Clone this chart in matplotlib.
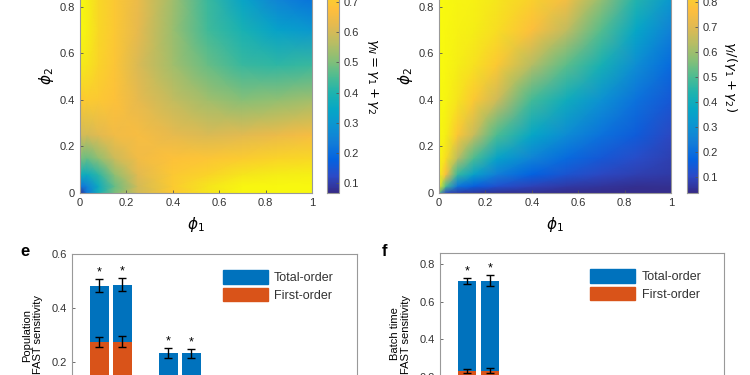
import numpy as np
import matplotlib
matplotlib.use('Agg')
import matplotlib.pyplot as plt
from matplotlib.colors import LinearSegmentedColormap
from matplotlib.patches import Patch

plt.rcParams['font.family'] = ['Liberation Sans', 'DejaVu Sans']
plt.rcParams['font.size'] = 8
plt.rcParams['text.color'] = '#333333'
plt.rcParams['xtick.color'] = '#555555'
plt.rcParams['ytick.color'] = '#555555'
plt.rcParams['xtick.labelcolor'] = '#333333'
plt.rcParams['ytick.labelcolor'] = '#333333'
plt.rcParams['xtick.direction'] = 'in'
plt.rcParams['ytick.direction'] = 'in'
plt.rcParams['axes.edgecolor'] = '#999999'

# grid (rows = phi2, cols = phi1)
phi = [0, 0.03, 0.08, 0.15, 0.25, 0.4, 0.55, 0.7, 0.85, 1.0]

gamma_n = [
    [0.07, 0.22, 0.38, 0.50, 0.60, 0.70, 0.77, 0.82, 0.83, 0.83],
    [0.22, 0.25, 0.36, 0.48, 0.60, 0.71, 0.77, 0.82, 0.83, 0.83],
    [0.38, 0.36, 0.42, 0.52, 0.62, 0.70, 0.73, 0.77, 0.79, 0.80],
    [0.50, 0.48, 0.52, 0.59, 0.65, 0.68, 0.69, 0.71, 0.73, 0.74],
    [0.60, 0.60, 0.62, 0.65, 0.66, 0.63, 0.61, 0.62, 0.64, 0.66],
    [0.70, 0.71, 0.70, 0.68, 0.63, 0.58, 0.54, 0.51, 0.52, 0.54],
    [0.78, 0.77, 0.73, 0.69, 0.61, 0.54, 0.48, 0.43, 0.42, 0.43],
    [0.83, 0.80, 0.74, 0.70, 0.63, 0.53, 0.44, 0.39, 0.33, 0.30],
    [0.84, 0.80, 0.74, 0.70, 0.64, 0.54, 0.43, 0.33, 0.24, 0.20],
    [0.84, 0.80, 0.73, 0.70, 0.64, 0.54, 0.42, 0.30, 0.20, 0.15],
]

gamma_frac = [
    [0.50, 0.10, 0.07, 0.06, 0.05, 0.05, 0.04, 0.04, 0.04, 0.04],
    [0.90, 0.50, 0.22, 0.16, 0.12, 0.09, 0.07, 0.06, 0.05, 0.05],
    [0.93, 0.75, 0.47, 0.35, 0.24, 0.17, 0.13, 0.10, 0.08, 0.07],
    [0.95, 0.86, 0.64, 0.50, 0.36, 0.26, 0.19, 0.14, 0.11, 0.08],
    [0.96, 0.91, 0.79, 0.66, 0.50, 0.37, 0.28, 0.21, 0.15, 0.10],
    [0.96, 0.94, 0.88, 0.80, 0.67, 0.49, 0.40, 0.30, 0.21, 0.14],
    [0.97, 0.95, 0.91, 0.87, 0.80, 0.63, 0.52, 0.42, 0.29, 0.19],
    [0.97, 0.95, 0.93, 0.91, 0.86, 0.77, 0.65, 0.51, 0.37, 0.25],
    [0.97, 0.96, 0.94, 0.93, 0.89, 0.83, 0.76, 0.60, 0.45, 0.33],
    [0.97, 0.96, 0.95, 0.94, 0.91, 0.86, 0.80, 0.68, 0.52, 0.40],
]

cbar_ticks_n = [0.1, 0.2, 0.3, 0.4, 0.5, 0.6, 0.7]
cbar_ticks_frac = [0.1, 0.2, 0.3, 0.4, 0.5, 0.6, 0.7, 0.8]

# bar panels (pairs of bars per group)
pop_total = [0.483, 0.487, 0.233, 0.232]
pop_total_err = [0.025, 0.025, 0.020, 0.017]
pop_first = [0.275, 0.275, 0.02, 0.02]
pop_first_err = [0.018, 0.020, 0.01, 0.01]

batch_total = [0.711, 0.712]
batch_total_err = [0.015, 0.030]
batch_first = [0.235, 0.235]
batch_first_err = [0.010, 0.012]

# parula-like colormap
parula = LinearSegmentedColormap.from_list('parula', [
    (0.2081, 0.1663, 0.5292), (0.1707, 0.2919, 0.7792), (0.0117, 0.3875, 0.8820),
    (0.0723, 0.4887, 0.8467), (0.0488, 0.5772, 0.8228), (0.0228, 0.6535, 0.7768),
    (0.1133, 0.7015, 0.6859), (0.3022, 0.7376, 0.5712), (0.5300, 0.7491, 0.4661),
    (0.7184, 0.7411, 0.3905), (0.8824, 0.7274, 0.3217), (0.9938, 0.7455, 0.2403),
    (0.9789, 0.8271, 0.1633), (0.9598, 0.9218, 0.0948), (0.9763, 0.9831, 0.0538)])

blue = '#0072BD'
orange = '#D95319'

fig = plt.figure(figsize=(7.5, 3.75), dpi=100)

def heatmap(rect, crect, z, vmin, vmax, cticks, clabel):
    ax = fig.add_axes(rect)
    m = ax.pcolormesh(phi, phi, np.array(z), shading='gouraud', cmap=parula,
                      vmin=vmin, vmax=vmax)
    ax.set_xlim(0, 1)
    ax.set_ylim(0, 1)
    ticks = [0, 0.2, 0.4, 0.6, 0.8]
    labs = ['0', '0.2', '0.4', '0.6', '0.8']
    ax.set_xticks(ticks + [1], labs + ['1'])
    ax.set_yticks(ticks, labs)
    ax.tick_params(length=2.5, width=0.6)
    ax.set_xlabel(r'$\phi_1$', fontsize=11, labelpad=5)
    ax.set_ylabel(r'$\phi_2$', fontsize=11, labelpad=3)
    cax = fig.add_axes(crect)
    cb = fig.colorbar(m, cax=cax)
    cb.set_ticks(cticks)
    cb.ax.tick_params(length=2, width=0.6, direction='in')
    cb.outline.set_edgecolor('#999999')
    cb.set_label(clabel, rotation=270, labelpad=15, fontsize=9.5)
    return ax

heatmap([80/750, 1 - 193/375, 232/750, 233/375], [327/750, 1 - 193/375, 12/750, 233/375],
        gamma_n, 0.067, 0.84, cbar_ticks_n, r'$\gamma_N = \gamma_1 + \gamma_2$')
heatmap([439/750, 1 - 193/375, 232/750, 233/375], [687/750, 1 - 193/375, 11/750, 233/375],
        gamma_frac, 0.036, 0.968, cbar_ticks_frac, r'$\gamma_I/(\gamma_1 + \gamma_2)$')


def bars(rect, total, total_err, first, first_err, ymax, yticks, ylabel, letter, lx):
    ax = fig.add_axes(rect)
    pos = [(i // 2) * 3 + i % 2 + 1 for i in range(len(total))]
    ax.bar(pos, total, width=0.8, color=blue, label='Total-order')
    ax.bar(pos, first, width=0.8, color=orange, label='First-order')
    ek = dict(fmt='none', ecolor='black', elinewidth=1, capsize=3, capthick=1)
    ax.errorbar(pos, total, yerr=total_err, **ek)
    ax.errorbar(pos, first, yerr=first_err, **ek)
    for p, t, e in zip(pos, total, total_err):
        ax.text(p, t + e + ymax * 0.003, '*', ha='center', va='bottom', fontsize=9,
                color='black')
    ax.set_xlim(-0.19, 12.2)
    ax.set_ylim(0, ymax)
    ax.set_yticks(yticks, [f'{v:.1f}' for v in yticks])
    ax.set_xticks([])
    ax.tick_params(length=2.5, width=0.6)
    ax.set_ylabel(ylabel, fontsize=8, labelpad=6)
    handles = [Patch(color=blue), Patch(color=orange)]
    ax.legend(handles, ['Total-order', 'First-order'], loc='upper left',
              bbox_to_anchor=(0.49, 0.97), frameon=False, fontsize=9,
              handlelength=3.6, handleheight=1.3, handletextpad=0.5, labelspacing=0.3)
    fig.text(lx, 1 - 252/375, letter, fontsize=12, fontweight='bold', color='black',
             ha='center', va='center')
    return ax

bars([72/750, -41/375, 285/750, 162/375], pop_total, pop_total_err, pop_first, pop_first_err,
     0.6, [0.2, 0.4, 0.6], 'Population\nFAST sensitivity', 'e', 25/750)
bars([440/750, -40/375, 284/750, 162/375], batch_total, batch_total_err, batch_first,
     batch_first_err, 0.858, [0.2, 0.4, 0.6, 0.8], 'Batch time\nFAST sensitivity', 'f', 385/750)

fig.savefig('out.png', dpi=100)
